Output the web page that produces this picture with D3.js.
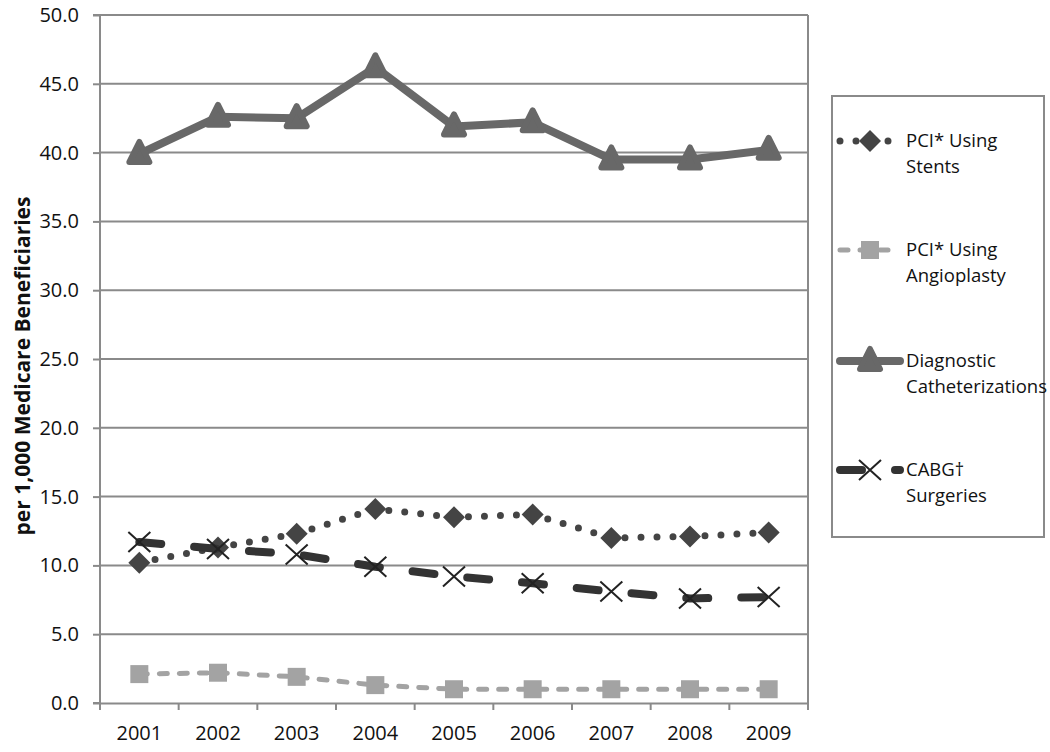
<!DOCTYPE html>
<html><head><meta charset="utf-8">
<script src="https://cdn.jsdelivr.net/npm/d3@7"></script>
<style>body{margin:0;background:#fff}svg{display:block}</style>
</head><body><div id="chart"></div>
<script>
const years = ["2001","2002","2003","2004","2005","2006","2007","2008","2009"];
const stents = [10.2, 11.3, 12.3, 14.1, 13.5, 13.7, 12.0, 12.1, 12.4];
const angioplasty = [2.1, 2.2, 1.9, 1.3, 1.0, 1.0, 1.0, 1.0, 1.0];
const diagnostic = [39.9, 42.6, 42.5, 46.2, 41.9, 42.2, 39.5, 39.5, 40.2];
const cabg = [11.7, 11.2, 10.8, 9.9, 9.2, 8.7, 8.1, 7.6, 7.7];
const yTicks = [0,5,10,15,20,25,30,35,40,45,50];
const seriesNames = [["PCI* Using","Stents"],["PCI* Using","Angioplasty"],["Diagnostic","Catheterizations"],["CABG\u2020","Surgeries"]];

const W=1050,H=752;
const svg=d3.select("#chart").append("svg").attr("width",W).attr("height",H);
const FONT="'Open Sans', sans-serif";
const pL=100,pR=808,pT=15,pB=703;
const x=d3.scaleBand().domain(years).range([pL,pR]);
const y=d3.scaleLinear().domain([0,50]).range([pB,pT]);
const cx=d=>x(d)+x.bandwidth()/2;

// gridlines
svg.append("g").selectAll("line").data(yTicks.filter(t=>t>0)).join("line")
 .attr("x1",pL).attr("x2",pR).attr("y1",d=>y(d)).attr("y2",d=>y(d))
 .attr("stroke","#8a8a8a").attr("stroke-width",2);
svg.append("line").attr("x1",pR).attr("x2",pR).attr("y1",pT).attr("y2",pB).attr("stroke","#8a8a8a").attr("stroke-width",2);

// y axis
const ya=svg.append("g").attr("transform",`translate(${pL},0)`)
 .call(d3.axisLeft(y).tickValues(yTicks).tickFormat(d3.format(".1f")).tickSize(7).tickPadding(14));
ya.select(".domain").attr("stroke","#8a8a8a").attr("stroke-width",2).attr("d",`M-7,${pT}H0V${pB}H-7`);
ya.selectAll(".tick line").attr("stroke","#8a8a8a").attr("stroke-width",2);
ya.selectAll("text").attr("font-family",FONT).attr("font-size",20).attr("fill","#111");

// x axis
const xa=svg.append("g").attr("transform",`translate(0,${pB})`)
 .call(d3.axisBottom(x).tickSize(0).tickPadding(23));
xa.select(".domain").attr("stroke","#8a8a8a").attr("stroke-width",2);
xa.selectAll("text").attr("font-family",FONT).attr("font-size",20).attr("fill","#111");
svg.append("g").selectAll("line").data(years.concat(["end"])).join("line")
 .attr("x1",(d,i)=>pL+i*x.bandwidth()).attr("x2",(d,i)=>pL+i*x.bandwidth())
 .attr("y1",pB).attr("y2",pB+7).attr("stroke","#8a8a8a").attr("stroke-width",2);

// y title
svg.append("text").attr("transform",`translate(30,366) rotate(-90)`)
 .attr("text-anchor","middle").attr("font-family",FONT).attr("font-weight","bold").attr("font-size",21)
 .attr("fill","#111").text("per 1,000 Medicare Beneficiaries");

const line=d3.line().x((d,i)=>cx(years[i])).y(d=>y(d));

const series=[
 {vals:stents,color:"#444",w:7,dash:"0 16",cap:"round",marker:"diamond"},
 {vals:angioplasty,color:"#a3a3a3",w:5,dash:"8 12",cap:"round",marker:"square"},
 {vals:diagnostic,color:"#686868",w:8,dash:null,cap:"round",marker:"triangle"},
 {vals:cabg,color:"#333",w:8,dash:"22 33",cap:"round",marker:"x"}
];

function drawMarker(g,type,px,py,color){
 if(type==="diamond"){
  g.append("path").attr("d",`M${px},${py-11}L${px+11},${py}L${px},${py+11}L${px-11},${py}Z`).attr("fill",color);
 } else if(type==="square"){
  g.append("rect").attr("x",px-9).attr("y",py-9).attr("width",18).attr("height",18).attr("fill",color);
 } else if(type==="triangle"){
  g.append("path").attr("d",`M${px},${py-12}L${px+10},${py+8}L${px-10},${py+8}Z`).attr("fill",color)
   .attr("stroke",color).attr("stroke-width",6).attr("stroke-linejoin","round");
 } else if(type==="x"){
  g.append("path").attr("d",`M${px-11},${py-10}L${px+11},${py+10}M${px-11},${py+10}L${px+11},${py-10}`)
   .attr("stroke","#222").attr("stroke-width",2).attr("fill","none");
 }
}

[1,0,3,2].forEach(si=>{
 const s=series[si];
 const g=svg.append("g");
 g.append("path").datum(s.vals).attr("d",line).attr("fill","none").attr("stroke",s.color)
  .attr("stroke-width",s.w).attr("stroke-linecap",s.cap).attr("stroke-linejoin","round")
  .attr("stroke-dasharray",s.dash);
 s.vals.forEach((v,i)=>drawMarker(g,s.marker,cx(years[i]),y(v),s.color));
});

// legend
svg.append("rect").attr("x",832).attr("y",96).attr("width",212).attr("height",441)
 .attr("fill","#fff").attr("stroke","#8a8a8a").attr("stroke-width",2);
const legY=[141,250,361,470];
series.forEach((s,i)=>{
 const g=svg.append("g");
 const ly=legY[i];
 g.append("line").attr("x1",840).attr("x2",900).attr("y1",ly).attr("y2",ly).attr("stroke",s.color)
  .attr("stroke-width",s.w).attr("stroke-linecap",s.cap).attr("stroke-dasharray",s.dash);
 drawMarker(g,s.marker,870,ly,s.color);
 const t=g.append("text").attr("font-family",FONT).attr("font-size",18.5).attr("fill","#111");
 t.append("tspan").attr("x",906).attr("y",ly+6).text(seriesNames[i][0]);
 t.append("tspan").attr("x",906).attr("y",ly+32).text(seriesNames[i][1]);
});
</script></body></html>
